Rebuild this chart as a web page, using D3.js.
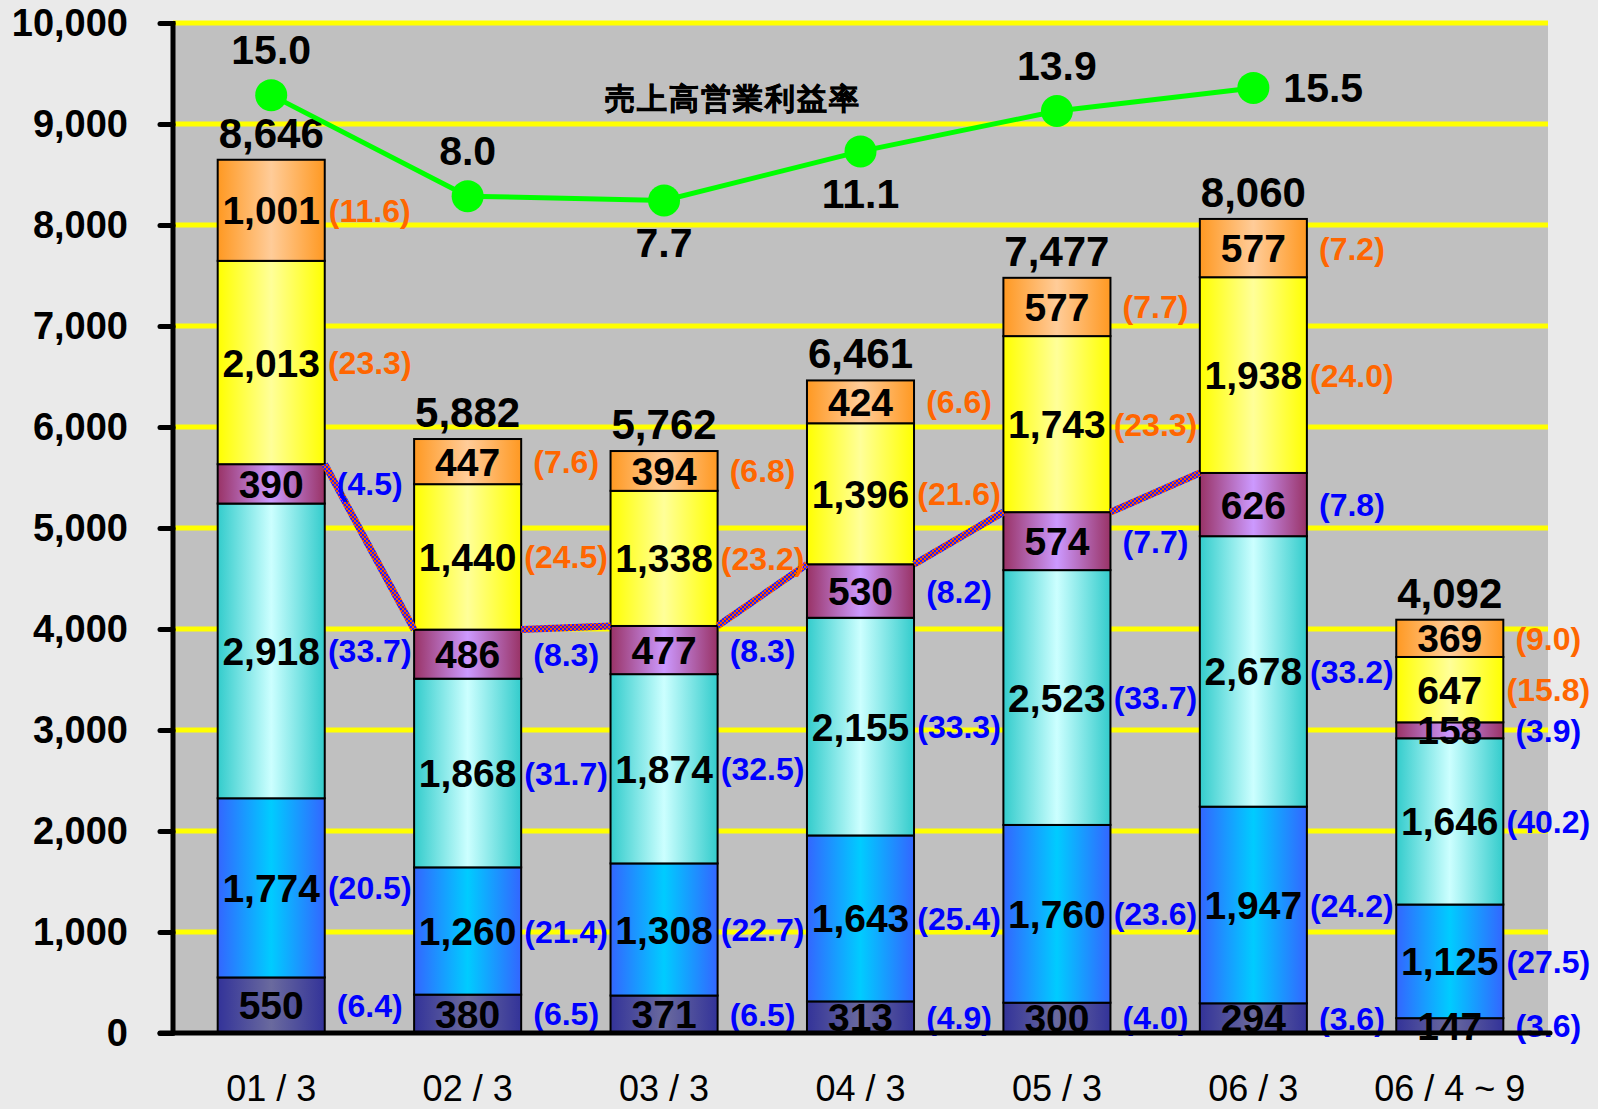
<!DOCTYPE html>
<html>
<head>
<meta charset="utf-8">
<script src="https://cdn.jsdelivr.net/npm/d3@7"></script>
<style>
  html, body { margin: 0; padding: 0; background: #EAEAEA; }
  svg { display: block; }
  text { font-family: "Liberation Sans", Arial, sans-serif; }
</style>
</head>
<body>
<svg id="chart" width="1598" height="1109"></svg>
<script>
// ---- data ----
const categories = ["01/3", "02/3", "03/3", "04/3", "05/3", "06/3", "06/4~9"];
const seriesNames = ["s1", "s2", "s3", "s4", "s5", "s6"];
const s1 = [550, 380, 371, 313, 300, 294, 147];
const s2 = [1774, 1260, 1308, 1643, 1760, 1947, 1125];
const s3 = [2918, 1868, 1874, 2155, 2523, 2678, 1646];
const s4 = [390, 486, 477, 530, 574, 626, 158];
const s5 = [2013, 1440, 1338, 1396, 1743, 1938, 647];
const s6 = [1001, 447, 394, 424, 577, 577, 369];
const totals = [8646, 5882, 5762, 6461, 7477, 8060, 4092];
const p1 = [6.4, 6.5, 6.5, 4.9, 4.0, 3.6, 3.6];
const p2 = [20.5, 21.4, 22.7, 25.4, 23.6, 24.2, 27.5];
const p3 = [33.7, 31.7, 32.5, 33.3, 33.7, 33.2, 40.2];
const p4 = [4.5, 8.3, 8.3, 8.2, 7.7, 7.8, 3.9];
const p5 = [23.3, 24.5, 23.2, 21.6, 23.3, 24.0, 15.8];
const p6 = [11.6, 7.6, 6.8, 6.6, 7.7, 7.2, 9.0];
const marginCats = ["01/3", "02/3", "03/3", "04/3", "05/3", "06/3"];
const marginValues = [15.0, 8.0, 7.7, 11.1, 13.9, 15.5];
const marginLabelPos = ["above", "above", "below", "below", "above", "right"];
const marginTitle = "売上高営業利益率";
const yTicks = [0, 1000, 2000, 3000, 4000, 5000, 6000, 7000, 8000, 9000, 10000];

const values = [s1, s2, s3, s4, s5, s6];
const pcts = [p1, p2, p3, p4, p5, p6];

// ---- styles ----
const gradStops = [
  ["#333399", "#6A6A9E"],
  ["#3366FF", "#00CCFF"],
  ["#33CCCC", "#CCFFFF"],
  ["#993366", "#CC99FF"],
  ["#FFFF00", "#FFFF99"],
  ["#FF9922", "#FFCC99"]
];
const pctColors = ["#0000FF", "#0000FF", "#0000FF", "#0000FF", "#FF6600", "#FF6600"];

const svg = d3.select("#chart");
const L = 173, R = 1548, T = 23, B = 1033;

const x = d3.scaleBand().domain(categories).range([L, R]).paddingInner(0.455).paddingOuter(0.2275);
const y = d3.scaleLinear().domain([0, 10000]).range([B, T]);
const y2 = d3.scaleLinear().domain([-50, 20]).range([B, T]);
const bw = x.bandwidth();

const defs = svg.append("defs");
gradStops.forEach((g, i) => {
  const lg = defs.append("linearGradient").attr("id", "g" + i)
    .attr("x1", "0%").attr("x2", "100%").attr("y1", "0%").attr("y2", "0%");
  lg.append("stop").attr("offset", "0%").attr("stop-color", g[0]);
  lg.append("stop").attr("offset", "50%").attr("stop-color", g[1]);
  lg.append("stop").attr("offset", "100%").attr("stop-color", g[0]);
});
const pat = defs.append("pattern").attr("id", "hatch").attr("patternUnits", "userSpaceOnUse")
  .attr("width", 4).attr("height", 4);
pat.append("rect").attr("width", 4).attr("height", 4).attr("fill", "#FF5500");
pat.append("rect").attr("width", 2).attr("height", 2).attr("fill", "#2222FF");
pat.append("rect").attr("x", 2).attr("y", 2).attr("width", 2).attr("height", 2).attr("fill", "#2222FF");

// background
svg.append("rect").attr("width", 1598).attr("height", 1109).attr("fill", "#EAEAEA");
svg.append("rect").attr("x", L).attr("y", T).attr("width", R - L).attr("height", B - T).attr("fill", "#C0C0C0");

// gridlines
svg.append("g").selectAll("line").data(yTicks.filter(d => d > 0)).join("line")
  .attr("x1", L).attr("x2", R).attr("y1", d => y(d)).attr("y2", d => y(d))
  .attr("stroke", "#FFFF00").attr("stroke-width", 5);

// stacked data
const rows = categories.map((c, i) => {
  const r = { cat: c };
  seriesNames.forEach((s, k) => r[s] = values[k][i]);
  return r;
});
const stacked = d3.stack().keys(seriesNames)(rows);

const barG = svg.append("g");
stacked.forEach((layer, k) => {
  barG.append("g").selectAll("rect").data(layer).join("rect")
    .attr("x", d => x(d.data.cat))
    .attr("y", d => y(d[1]))
    .attr("width", bw)
    .attr("height", d => y(d[0]) - y(d[1]))
    .attr("fill", "url(#g" + k + ")")
    .attr("stroke", "#000").attr("stroke-width", 2);
});

// series lines (top of 4th series) between first six bars
const s4Top = stacked[3];
const seg = [];
for (let i = 0; i < 5; i++) {
  seg.push([s4Top[i], s4Top[i + 1]]);
}
svg.append("g").selectAll("line").data(seg).join("line")
  .attr("x1", d => x(d[0].data.cat) + bw).attr("y1", d => y(d[0][1]))
  .attr("x2", d => x(d[1].data.cat)).attr("y2", d => y(d[1][1]))
  .attr("stroke", "url(#hatch)").attr("stroke-width", 7);

// value labels
const fmt = d3.format(",");
stacked.forEach((layer, k) => {
  svg.append("g").selectAll("text").data(layer).join("text")
    .attr("x", d => x(d.data.cat) + bw / 2)
    .attr("y", d => y((d[0] + d[1]) / 2))
    .attr("dy", "0.36em")
    .attr("text-anchor", "middle")
    .attr("font-size", 39).attr("font-weight", "bold").attr("fill", "#000")
    .text(d => fmt(d.data[seriesNames[k]]));
  svg.append("g").selectAll("text").data(layer).join("text")
    .attr("x", d => x(d.data.cat) + bw + 45)
    .attr("y", d => y((d[0] + d[1]) / 2))
    .attr("dy", "0.36em")
    .attr("text-anchor", "middle")
    .attr("font-size", 32).attr("font-weight", "bold").attr("fill", pctColors[k])
    .text((d, i) => "(" + pcts[k][i].toFixed(1) + ")");
});

// totals
svg.append("g").selectAll("text").data(categories).join("text")
  .attr("x", d => x(d) + bw / 2)
  .attr("y", (d, i) => y(totals[i]) - 12)
  .attr("text-anchor", "middle")
  .attr("font-size", 42).attr("font-weight", "bold").attr("fill", "#000")
  .text((d, i) => fmt(totals[i]));

// margin line
const cx = c => x(c) + bw / 2;
svg.append("path").datum(marginValues)
  .attr("d", d3.line().x((d, i) => cx(marginCats[i])).y(d => y2(d)))
  .attr("fill", "none").attr("stroke", "#00FF00").attr("stroke-width", 5);
svg.append("g").selectAll("circle").data(marginValues).join("circle")
  .attr("cx", (d, i) => cx(marginCats[i])).attr("cy", d => y2(d)).attr("r", 16)
  .attr("fill", "#00FF00");
svg.append("g").selectAll("text").data(marginValues).join("text")
  .attr("x", (d, i) => cx(marginCats[i]) + (marginLabelPos[i] === "right" ? 30 : 0))
  .attr("y", (d, i) => y2(d) + (marginLabelPos[i] === "above" ? -31 : marginLabelPos[i] === "below" ? 57 : 14))
  .attr("text-anchor", (d, i) => marginLabelPos[i] === "right" ? "start" : "middle")
  .attr("font-size", 41).attr("font-weight", "bold").attr("fill", "#000")
  .text(d => d.toFixed(1));

svg.append("text").attr("x", 605).attr("y", 98).attr("dy", "0.36em")
  .attr("font-family", "'Noto Sans CJK JP', sans-serif")
  .attr("font-size", 30).attr("font-weight", "900").attr("fill", "#000")
  .attr("letter-spacing", 2)
  .attr("stroke", "#000").attr("stroke-width", 0.6)
  .text(marginTitle);

// axes
const yAxis = svg.append("g").attr("transform", `translate(${L},0)`)
  .call(d3.axisLeft(y).tickValues(yTicks).tickFormat(fmt).tickSize(13).tickPadding(32));
yAxis.select(".domain").remove();
yAxis.selectAll(".tick line").attr("stroke", "#000").attr("stroke-width", 5).attr("stroke-linecap", "round");
yAxis.selectAll(".tick text").attr("font-size", 38).attr("font-weight", "bold")
  .attr("font-family", "'Liberation Sans', Arial, sans-serif").attr("fill", "#000");

svg.append("line").attr("x1", L).attr("x2", L).attr("y1", T - 2).attr("y2", B)
  .attr("stroke", "#000").attr("stroke-width", 5);
svg.append("line").attr("x1", 160).attr("x2", R + 2).attr("y1", B).attr("y2", B)
  .attr("stroke", "#000").attr("stroke-width", 5).attr("stroke-linecap", "round");

const xAxis = svg.append("g").attr("transform", `translate(0,${B})`)
  .call(d3.axisBottom(x).tickSize(0).tickPadding(0)
    .tickFormat(d => d.replace("/", " / ").replace("~", " ~ ")));
xAxis.select(".domain").remove();
xAxis.selectAll(".tick text")
  .attr("y", 68).attr("dy", 0)
  .attr("font-size", 36).attr("font-weight", "normal")
  .attr("font-family", "'Liberation Sans', Arial, sans-serif").attr("fill", "#000");
</script>
</body>
</html>
